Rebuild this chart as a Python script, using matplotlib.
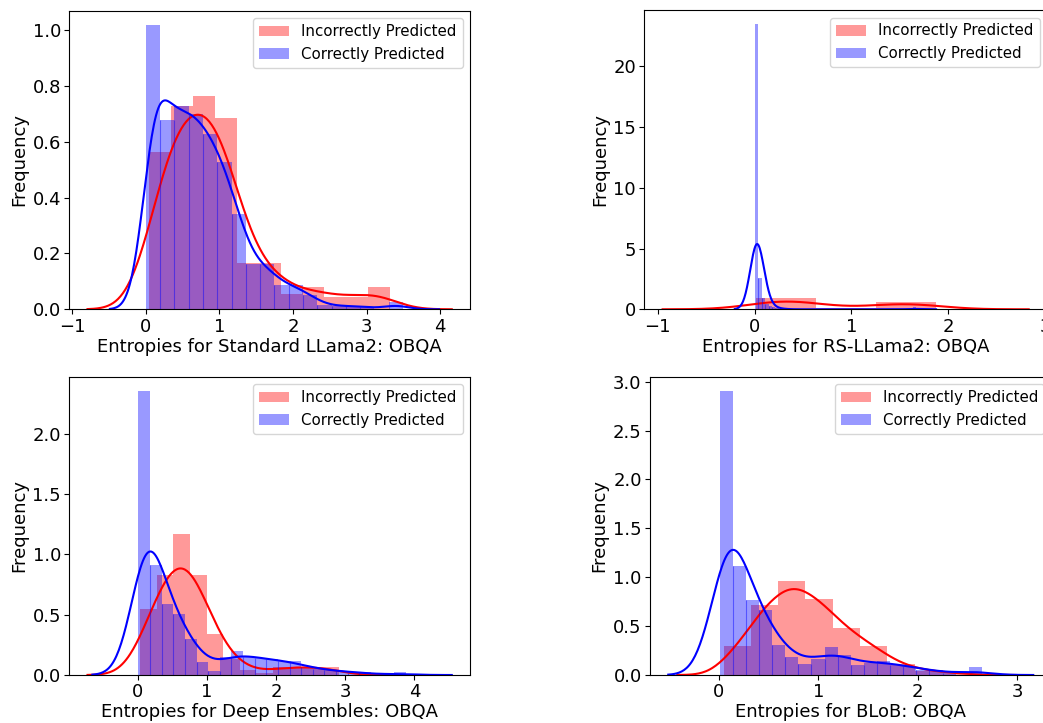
import math
import numpy as np
import matplotlib
matplotlib.use("Agg")
import matplotlib.pyplot as plt

# ---- histogram data (density heights per bin) ----
# Standard LLama2
std_wrong_start, std_wrong_width = 0.05, 0.297
std_wrong = [0.563, 0.728, 0.764, 0.685, 0.164, 0.164, 0.055, 0.079, 0.043, 0.043, 0.080]
std_right_start, std_right_width = 0.003, 0.194
std_right = [1.018, 0.678, 0.726, 0.70, 0.628, 0.527, 0.341, 0.162, 0.162, 0.087,
             0.087, 0.051, 0.015, 0.012, 0.012, 0.008, 0.0, 0.026]

# RS-LLama2
rs_wrong_start, rs_wrong_width = 0.01, 0.62
rs_wrong = [0.93, 0.07, 0.60]
rs_right_start, rs_right_width = 0.003, 0.0354
rs_right = [23.45, 2.6, 0.9, 0.45, 0.25, 0.15, 0.1, 0.05, 0.05, 0.0,
            0.0, 0.0, 0.0, 0.0, 0.0, 0.0, 0.0, 0.0, 0.0, 0.0,
            0.0, 0.0, 0.0, 0.0, 0.0, 0.0, 0.0, 0.0, 0.0, 0.0,
            0.0, 0.0, 0.0, 0.0, 0.0, 0.0, 0.0, 0.0, 0.0, 0.0,
            0.0, 0.0, 0.0, 0.0, 0.0, 0.0, 0.16, 0.0]

# Deep Ensembles
de_wrong_start, de_wrong_width = 0.039, 0.239
de_wrong = [0.547, 0.828, 1.168, 0.828, 0.34, 0.13, 0.04, 0.02, 0.066, 0.066, 0.066, 0.066]
de_right_start, de_right_width = 0.01, 0.168
de_right = [2.353, 0.911, 0.588, 0.505, 0.298, 0.11, 0.036, 0.149, 0.199, 0.149,
            0.14, 0.13, 0.113, 0.113, 0.064, 0.05, 0.04, 0.03, 0.02, 0.025,
            0.0, 0.0, 0.025]

# BLoB
blob_wrong_start, blob_wrong_width = 0.047, 0.2746
blob_wrong = [0.297, 0.713, 0.961, 0.777, 0.484, 0.297, 0.11, 0.044, 0.02]
blob_right_start, blob_right_width = 0.007, 0.132
blob_right = [2.905, 1.115, 0.767, 0.665, 0.307, 0.188, 0.113, 0.16, 0.286, 0.205,
              0.102, 0.126, 0.147, 0.1, 0.095, 0.05, 0.05, 0.02, 0.0, 0.085]

# kernel bandwidths of the density curves (incorrect, correct)
bandwidths = {
    "std": (0.28, 0.163),
    "rs": (0.32, 0.069),
    "de": (0.255, 0.222),
    "blob": (0.155, 0.172),
}

xlabels = [
    "Entropies for Standard LLama2: OBQA",
    "Entropies for RS-LLama2: OBQA",
    "Entropies for Deep Ensembles: OBQA",
    "Entropies for BLoB: OBQA",
]

W, H = 1043, 723
fig = plt.figure(figsize=(W / 100, H / 100), dpi=100)

# axes boxes in pixels: left, top, right, bottom
boxes = [
    (69.3, 10.7, 470.0, 309.3),
    (644.3, 10.0, 1047.0, 309.3),
    (69.3, 376.7, 470.0, 675.0),
    (650.0, 376.7, 1051.5, 675.0),
]

_erf = np.vectorize(math.erf)


def norm_cdf(z):
    return 0.5 * (1.0 + _erf(z / math.sqrt(2.0)))


def smooth_density(edges, heights, bw, cut=3, n=300):
    """Gaussian-smoothed density of a histogram (mass spread evenly in each bin)."""
    heights = np.asarray(heights, dtype=float)
    nz = np.nonzero(heights)[0]
    lo, hi = edges[nz[0]], edges[nz[-1] + 1]
    x = np.linspace(lo - cut * bw, hi + cut * bw, n)
    y = np.zeros_like(x)
    for a, b, h in zip(edges[:-1], edges[1:], heights):
        if h > 0:
            y += h * (norm_cdf((x - a) / bw) - norm_cdf((x - b) / bw))
    return x, y


panels = [
    ("std", (std_wrong_start, std_wrong_width, std_wrong), (std_right_start, std_right_width, std_right)),
    ("rs", (rs_wrong_start, rs_wrong_width, rs_wrong), (rs_right_start, rs_right_width, rs_right)),
    ("de", (de_wrong_start, de_wrong_width, de_wrong), (de_right_start, de_right_width, de_right)),
    ("blob", (blob_wrong_start, blob_wrong_width, blob_wrong), (blob_right_start, blob_right_width, blob_right)),
]

for (key, wrong, right), box, xl in zip(panels, boxes, xlabels):
    l, t, r, b = box
    ax = fig.add_axes([l / W, 1 - b / H, (r - l) / W, (b - t) / H])
    bw_w, bw_r = bandwidths[key]
    for (start, width, heights), color, label, bw in (
        (wrong, "red", "Incorrectly Predicted", bw_w),
        (right, "blue", "Correctly Predicted", bw_r),
    ):
        heights = np.asarray(heights, dtype=float)
        edges = start + width * np.arange(len(heights) + 1)
        ax.bar(edges[:-1], heights, width=width, align="edge", color=color,
               alpha=0.4, linewidth=0, label=label)
        if color == "blue":
            # faint seams between neighbouring bars
            seam_h = np.minimum(heights[:-1], heights[1:])
            keep = seam_h > 0
            ax.vlines(edges[1:-1][keep], 0, seam_h[keep], color=color,
                      alpha=0.45, linewidth=0.8)
        xs, ys = smooth_density(edges, heights, bw)
        ax.plot(xs, ys, color=color, linewidth=1.5)
    ax.set_xlabel(xl, fontsize=13, labelpad=1.5)
    ax.set_ylabel("Frequency", fontsize=13, labelpad=3)
    ax.tick_params(labelsize=13, pad=2.5)
    ax.legend(loc="upper right", fontsize=10.8)

fig.savefig("out.png", dpi=100)
